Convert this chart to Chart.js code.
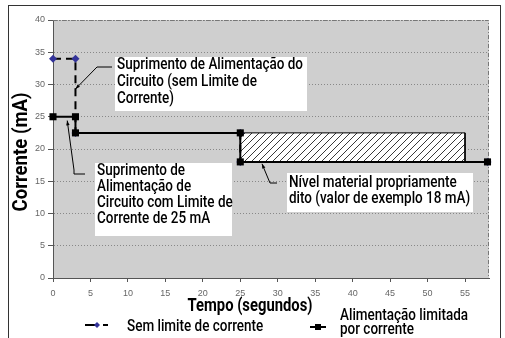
<!DOCTYPE html>
<html>
<head>
<meta charset="utf-8">
<script src="https://cdn.jsdelivr.net/npm/chart.js@4.4.1/dist/chart.umd.min.js"></script>
<style>
html,body{margin:0;padding:0;background:#fff;}
#wrap{width:505px;height:338px;position:relative;}
</style>
</head>
<body>
<div id="wrap"><canvas id="c" width="505" height="338"></canvas></div>
<script>
// ---- data ----
const timeNoLimit = [0, 3, 3, 25, 25, 58];
const currentNoLimit = [34, 34, 22.5, 22.5, 18, 18];
const timeLimited = [0, 3, 3, 25, 25, 58];
const currentLimited = [25, 25, 22.5, 22.5, 18, 18];
const bandTime = [25, 55, 55];
const bandCurrent = [22.5, 22.5, 18];
const bandBase = 18;
const xTickValues = [0, 5, 10, 15, 20, 25, 30, 35, 40, 45, 50, 55];
const yTickValues = [0, 5, 10, 15, 20, 25, 30, 35, 40];
const seriesNames = ['Sem limite de corrente', 'Alimentação limitada por corrente'];
const xTitle = 'Tempo (segundos)';
const yTitle = 'Corrente (mA)';
const note1 = ['Suprimento de Alimentação do', 'Circuito (sem Limite de', 'Corrente)'];
const note2 = ['Suprimento de', 'Alimentação de', 'Circuito com Limite de', 'Corrente de 25 mA'];
const note3 = ['Nível material propriamente', 'dito (valor de exemplo 18 mA)'];

const FONT = "Roboto, 'Liberation Sans', sans-serif";

function pts(xs, ys) { return xs.map((x, i) => ({x: x, y: ys[i]})); }

// hatch pattern
const pc = document.createElement('canvas');
pc.width = 7; pc.height = 7;
const pctx = pc.getContext('2d');
pctx.fillStyle = '#ffffff'; pctx.fillRect(0, 0, 7, 7);
pctx.strokeStyle = '#222'; pctx.lineWidth = 0.9;
pctx.beginPath();
pctx.moveTo(-1, 8); pctx.lineTo(8, -1);
pctx.moveTo(-1, 1); pctx.lineTo(1, -1);
pctx.moveTo(6, 8); pctx.lineTo(8, 6);
pctx.stroke();
const hatch = document.getElementById('c').getContext('2d').createPattern(pc, 'repeat');

const decor = {
  id: 'decor',
  beforeDraw(chart) {
    const ctx = chart.ctx, a = chart.chartArea;
    ctx.save();
    ctx.fillStyle = '#ffffff';
    ctx.fillRect(0, 0, chart.width, chart.height);
    ctx.strokeStyle = '#333';
    ctx.lineWidth = 1;
    ctx.strokeRect(8.5, 5.5, 492, 340);
    ctx.fillStyle = '#cfcfcf';
    ctx.fillRect(a.left, a.top, a.right - a.left, a.bottom - a.top);
    ctx.restore();
  },
  beforeDatasetsDraw(chart) {
    const ctx = chart.ctx, a = chart.chartArea;
    ctx.save();
    ctx.strokeStyle = '#777';
    ctx.lineWidth = 1;
    ctx.setLineDash([4, 2, 1, 2]);
    ctx.beginPath();
    ctx.moveTo(a.left, a.top + 0.5); ctx.lineTo(a.right - 0.5, a.top + 0.5);
    ctx.lineTo(a.right - 0.5, a.bottom);
    ctx.stroke();
    ctx.restore();
  },
  afterDraw(chart) {
    const ctx = chart.ctx;
    const xs = chart.scales.x, ys = chart.scales.y;
    const X = v => xs.getPixelForValue(v), Y = v => ys.getPixelForValue(v);
    ctx.save();

    // condensed text helper
    function drawText(t, x, y, sx, align) {
      ctx.save();
      ctx.translate(x, y);
      ctx.scale(sx, 1);
      ctx.textAlign = align || 'left';
      ctx.fillText(t, 0, 0);
      ctx.restore();
    }
    ctx.textBaseline = 'alphabetic';
    ctx.fillStyle = '#000';

    // axis titles
    ctx.font = "bold 18px " + FONT;
    const sxX = 125 / ctx.measureText(xTitle).width;
    drawText(xTitle, 250, 311, sxX, 'center');
    ctx.font = "bold 20px " + FONT;
    const sxY = 119 / ctx.measureText(yTitle).width;
    ctx.save();
    ctx.translate(27, 152);
    ctx.rotate(-Math.PI / 2);
    drawText(yTitle, 0, 0, sxY, 'center');
    ctx.restore();

    ctx.font = "500 16px " + FONT;
    const sx = 186 / ctx.measureText(note1[0]).width;

    function box(x, y, w, h, lines, first, lh) {
      ctx.fillStyle = '#fff';
      ctx.fillRect(x, y, w, h);
      ctx.fillStyle = '#000';
      lines.forEach((t, i) => drawText(t, x + 2, y + first + lh * i, sx, 'left'));
    }
    function leader(ptsArr) {
      ctx.strokeStyle = '#000';
      ctx.lineWidth = 1;
      ctx.setLineDash([]);
      ctx.beginPath();
      ctx.moveTo(ptsArr[0][0], ptsArr[0][1]);
      for (let i = 1; i < ptsArr.length; i++) ctx.lineTo(ptsArr[i][0], ptsArr[i][1]);
      ctx.stroke();
      const [x0, y0] = ptsArr[0], [x1, y1] = ptsArr[1];
      const ang = Math.atan2(y0 - y1, x0 - x1);
      ctx.fillStyle = '#000';
      ctx.beginPath();
      ctx.moveTo(x0, y0);
      ctx.lineTo(x0 - 5 * Math.cos(ang - 0.35), y0 - 5 * Math.sin(ang - 0.35));
      ctx.lineTo(x0 - 5 * Math.cos(ang + 0.35), y0 - 5 * Math.sin(ang + 0.35));
      ctx.closePath();
      ctx.fill();
    }
    box(115, 57, 192, 54, note1, 12, 17);
    box(95, 163, 137, 73, note2, 12, 16);
    box(287, 173, 186, 39, note3, 14, 15.5);
    leader([[X(3), Y(29.3)], [97, 67], [112, 67]]);
    leader([[X(1.9), Y(24.4)], [74, 170], [74, 174], [85, 174]]);
    leader([[X(27.9), Y(17.7)], [270, 183], [277, 183]]);

    // legend
    const d0 = chart.data.datasets[0], d1 = chart.data.datasets[1];
    ctx.lineWidth = 2;
    ctx.strokeStyle = '#000';
    ctx.beginPath(); ctx.moveTo(85, 325); ctx.lineTo(95, 325); ctx.moveTo(103, 325); ctx.lineTo(108, 325); ctx.stroke();
    ctx.fillStyle = d0.pointBackgroundColor;
    ctx.beginPath(); ctx.moveTo(97, 322); ctx.lineTo(100, 325); ctx.lineTo(97, 328); ctx.lineTo(94, 325); ctx.closePath(); ctx.fill();
    ctx.strokeStyle = '#000';
    ctx.beginPath(); ctx.moveTo(310, 327); ctx.lineTo(326, 327); ctx.stroke();
    ctx.fillStyle = d1.pointBackgroundColor;
    ctx.fillRect(315, 324, 6, 6);
    ctx.fillStyle = '#000';
    ctx.font = "500 16px " + FONT;
    drawText(seriesNames[0], 127, 331, sx, 'left');
    drawText('Alimentação limitada', 340, 320, sx, 'left');
    drawText('por corrente', 340, 334, sx, 'left');
    ctx.restore();
  }
};

new Chart(document.getElementById('c'), {
  type: 'scatter',
  data: {
    datasets: [
      {
        label: seriesNames[0],
        data: pts(timeNoLimit, currentNoLimit),
        showLine: true,
        clip: false,
        borderColor: '#000',
        borderWidth: 2,
        borderDash: [8, 5],
        pointStyle: 'rectRot',
        pointRadius: 4,
        pointBackgroundColor: '#333399',
        pointBorderColor: '#333399',
        pointBorderWidth: 0,
        order: 2
      },
      {
        label: seriesNames[1],
        data: pts(timeLimited, currentLimited),
        showLine: true,
        clip: false,
        borderColor: '#000',
        borderWidth: 2,
        pointStyle: 'rect',
        pointRadius: 5,
        pointBackgroundColor: '#000',
        pointBorderColor: '#000',
        pointBorderWidth: 0,
        order: 1
      },
      {
        label: 'band',
        data: pts(bandTime, bandCurrent),
        showLine: true,
        borderColor: '#000',
        borderWidth: 1,
        backgroundColor: hatch,
        fill: {value: bandBase},
        pointRadius: 0,
        order: 3
      }
    ]
  },
  options: {
    responsive: false,
    animation: false,
    devicePixelRatio: 1,
    layout: {padding: {left: 0, top: 20, right: 16, bottom: 0}},
    plugins: {legend: {display: false}, tooltip: {enabled: false}},
    scales: {
      x: {
        type: 'linear',
        min: 0, max: 58.2,
        afterFit(s) { s.height = 60; },
        afterBuildTicks(s) { s.ticks = xTickValues.map(v => ({value: v})); },
        grid: {drawOnChartArea: false, drawTicks: true, tickLength: 4, color: '#555', tickColor: '#555'},
        border: {display: true, color: '#555', width: 1},
        ticks: {padding: 6, color: '#666', font: {family: "'Liberation Sans', Arial, sans-serif", size: 9}, maxRotation: 0, autoSkip: false}
      },
      y: {
        type: 'linear',
        min: 0, max: 40,
        afterFit(s) { s.width = 53; },
        afterBuildTicks(s) { s.ticks = yTickValues.map(v => ({value: v})); },
        grid: {drawOnChartArea: true, drawTicks: true, tickLength: 5, color: '#888', tickColor: '#555', tickBorderDash: []},
        border: {display: true, color: '#555', width: 1, dash: [1, 2]},
        ticks: {padding: 3, color: '#666', font: {family: "'Liberation Sans', Arial, sans-serif", size: 9}}
      }
    }
  },
  plugins: [decor]
});
</script>
</body>
</html>
